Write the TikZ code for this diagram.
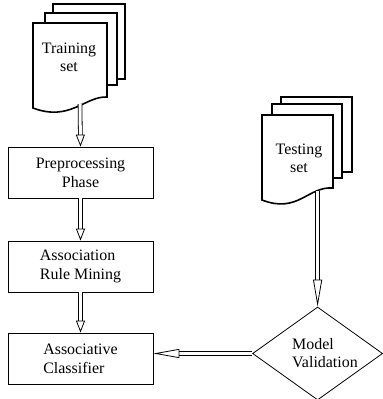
\documentclass[tikz,border=0pt]{standalone}
\usepackage{fontspec}
\setmainfont{Liberation Serif}
\usetikzlibrary{arrows.meta,shapes.geometric}
\tikzset{
  lbl/.style={font=\fontsize{16}{18}\selectfont, inner sep=0pt},
  stepbox/.style={draw, line width=0.8bp, minimum width=145bp, minimum height=51bp,
    font=\fontsize{16}{19}\selectfont, inner sep=0pt},
  sheet/.style={draw, line width=1.6bp, fill=white, line join=miter},
  dblarrow/.style={double, double distance=3bp, line width=0.8bp,
    -{Triangle[open, length=#1, width=9bp, line width=0.8bp]}},
  dblarrow/.default=12bp
}
\begin{document}
\begin{tikzpicture}[x=1bp, y=-1bp]
\useasboundingbox (0,0) rectangle (383,399);

% training set: stacked document sheets
\draw[sheet] (53,4) rectangle (125,79);
\draw[sheet] (45,13) rectangle (117,85);
\draw[sheet] (33,23) -- (107,23) -- (107,97)
  .. controls (85,96) and (70,122) .. (33,108) -- cycle;
\node[lbl, align=center] (train) at (69,57) {Training\\set};
\coordinate (trainout) at (80,104);

% testing set: stacked document sheets
\draw[sheet] (281,97) rectangle (352,172);
\draw[sheet] (272,104) rectangle (342,178);
\draw[sheet] (262,115) -- (333,115) -- (333,188)
  .. controls (308,186) and (298,214) .. (262,200) -- cycle;
\node[lbl, align=center] (test) at (299,158) {Testing\\set};

% processing steps
\node[stepbox, align=center] (pre) at (80.5,172.5) {Preprocessing\\Phase};
\node[stepbox, align=left] (arm) at (80.5,266.5) {Association\\Rule Mining};
\node[stepbox, align=left] (ac) at (80.5,358.5) {Associative\\Classifier};

% validation decision
\node[draw, diamond, line width=0.8bp, minimum width=130bp, minimum height=93bp,
  inner sep=0pt] (mv) at (317.6,353.5) {};
\node[lbl, align=left] (mvtext) at (325,353) {Model\\Validation};
\coordinate (testout) at (mv.north |- 0,191);

% connectors
\draw[dblarrow] (trainout) -- (pre.north);
\draw[dblarrow] (pre.south) -- (arm.north);
\draw[dblarrow] (arm.south) -- (ac.north);
\draw[dblarrow=27bp] (testout) -- (mv.north);
\draw[dblarrow=26bp] (mv.west) -- (mv.west -| ac.east);
\end{tikzpicture}
\end{document}
